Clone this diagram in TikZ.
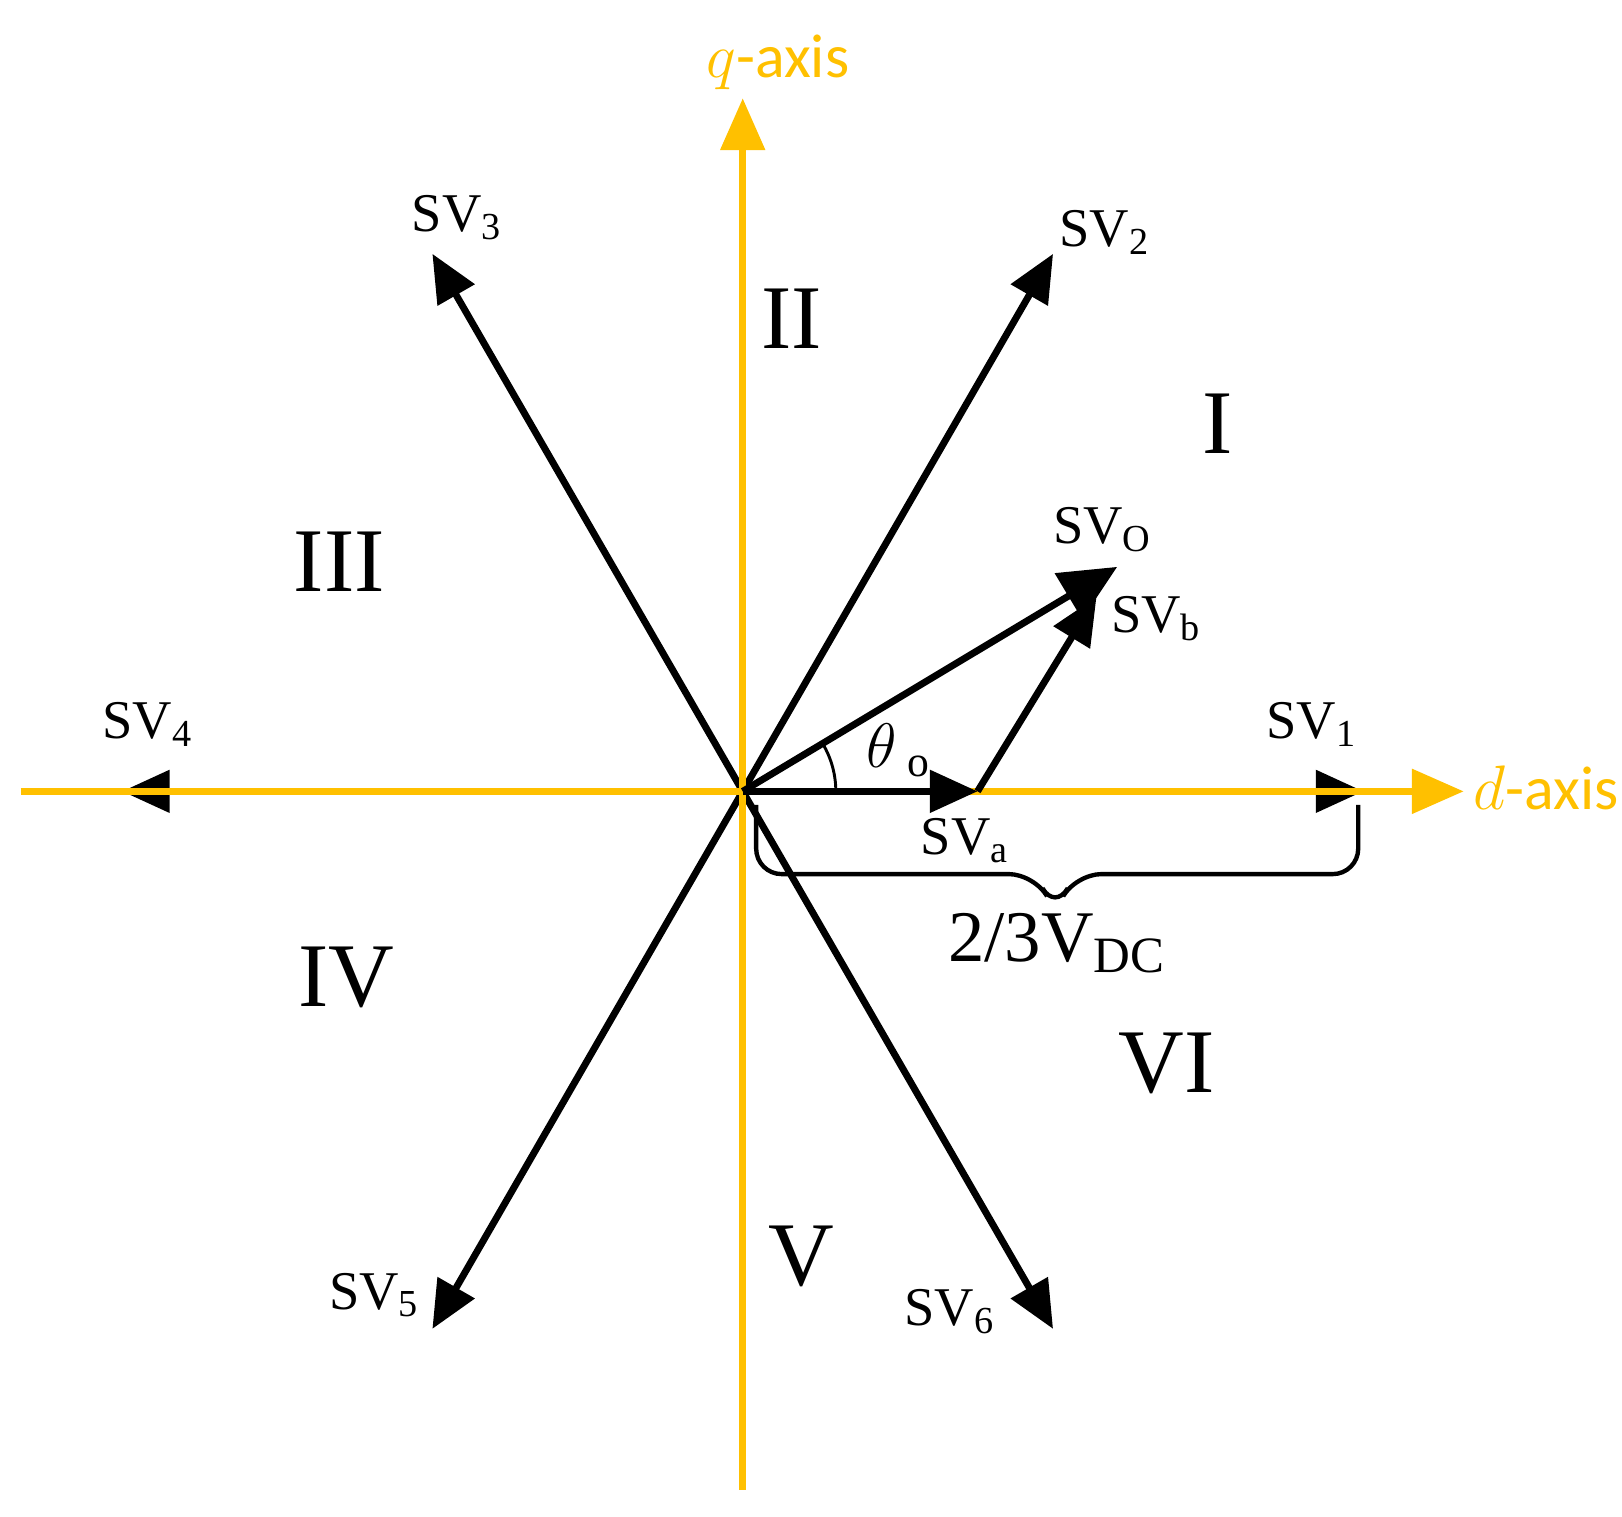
\documentclass[tikz,border=0pt]{standalone}
\usepackage{fontspec}
\setmainfont{Liberation Serif}
\newfontfamily\axisfont{Carlito}
\usetikzlibrary{arrows.meta,calc}
\definecolor{axisorange}{HTML}{FFC000}
\tikzset{
  vec/.style={line width=1.9pt,-{Triangle[length=4.6mm,width=4mm]}},
  axis/.style={line width=1.9pt,axisorange,-{Triangle[length=5mm,width=4.2mm]}},
  lbl/.style={font=\fontsize{15}{15}\selectfont},
  sector/.style={font=\fontsize{25}{25}\selectfont}
}
\begin{document}
\begin{tikzpicture}[x=0.01cm,y=-0.01cm]
\useasboundingbox (0,0) rectangle (1568,1466);
\coordinate (O) at (718,765);
% six switching vectors
\foreach \k/\ang in {1/0,2/60,3/120,4/180,5/240,6/300}
  \coordinate (sv\k) at ($(O)+(-\ang:600)$);
\foreach \k in {1,...,6}
  \draw[vec] (O) -- (sv\k);
\node[lbl] (l1) at (1268,700) {SV\textsubscript{1}};
\node[lbl] (l2) at (1068,225) {SV\textsubscript{2}};
\node[lbl] (l3) at (442,210) {SV\textsubscript{3}};
\node[lbl] (l4) at (143,700) {SV\textsubscript{4}};
\node[lbl] (l5) at (362,1252) {SV\textsubscript{5}};
\node[lbl] (l6) at (918,1268) {SV\textsubscript{6}};
% axes
\coordinate (dstart) at (20,765);
\coordinate (dend) at (1415,765);
\coordinate (qstart) at (718,1440);
\coordinate (qend) at (718,95);
\draw[axis] (dstart) -- (dend);
\draw[axis] (qstart) -- (qend);
\node[text=axisorange,font=\fontsize{17}{17}\selectfont,anchor=west,inner sep=1pt] (dlbl) at (1420,762) {$d$\axisfont-axis};
\node[text=axisorange,font=\fontsize{17}{17}\selectfont] (qlbl) at (752,60) {$q$\axisfont-axis};
% reference vector
\coordinate (sva) at (945,765);
\coordinate (svo) at (1080,548);
\draw[vec] (O) -- (sva);
\draw[vec] (sva) -- (1060,577);
\draw[line width=1.9pt,-{Triangle[length=5.5mm,width=5mm]}] (O) -- (svo);
\draw[line width=0.8pt] ($(O)+(90,0)$) arc[start angle=0,end angle=-31,radius=90];
\node[lbl] (lo) at (1066,512) {SV\textsubscript{O}};
\node[lbl] (lb) at (1118,598) {SV\textsubscript{b}};
\node[lbl] (la) at (933,813) {SV\textsubscript{a}};
\node[font=\fontsize{18}{18}\selectfont] (th) at (868,725) {$\theta$\,\raisebox{-0.3ex}{\fontsize{12}{12}\selectfont o}};
% brace
\draw[line width=1.2pt,rounded corners=7pt] (731,778) -- (731,845) -- (1000,845)
  -- (1020,880) -- (1040,845) -- (1313,845) -- (1313,778);
\node[font=\fontsize{20}{20}\selectfont] (vdc) at (1022,912) {2/3V\textsubscript{DC}};
% sectors
\node[sector] (s1) at (1177,410) {I};
\node[sector] (s2) at (765,308) {II};
\node[sector] (s3) at (328,543) {III};
\node[sector] (s4) at (335,945) {IV};
\node[sector] (s5) at (775,1215) {V};
\node[sector] (s6) at (1128,1028) {VI};
\end{tikzpicture}
\end{document}
